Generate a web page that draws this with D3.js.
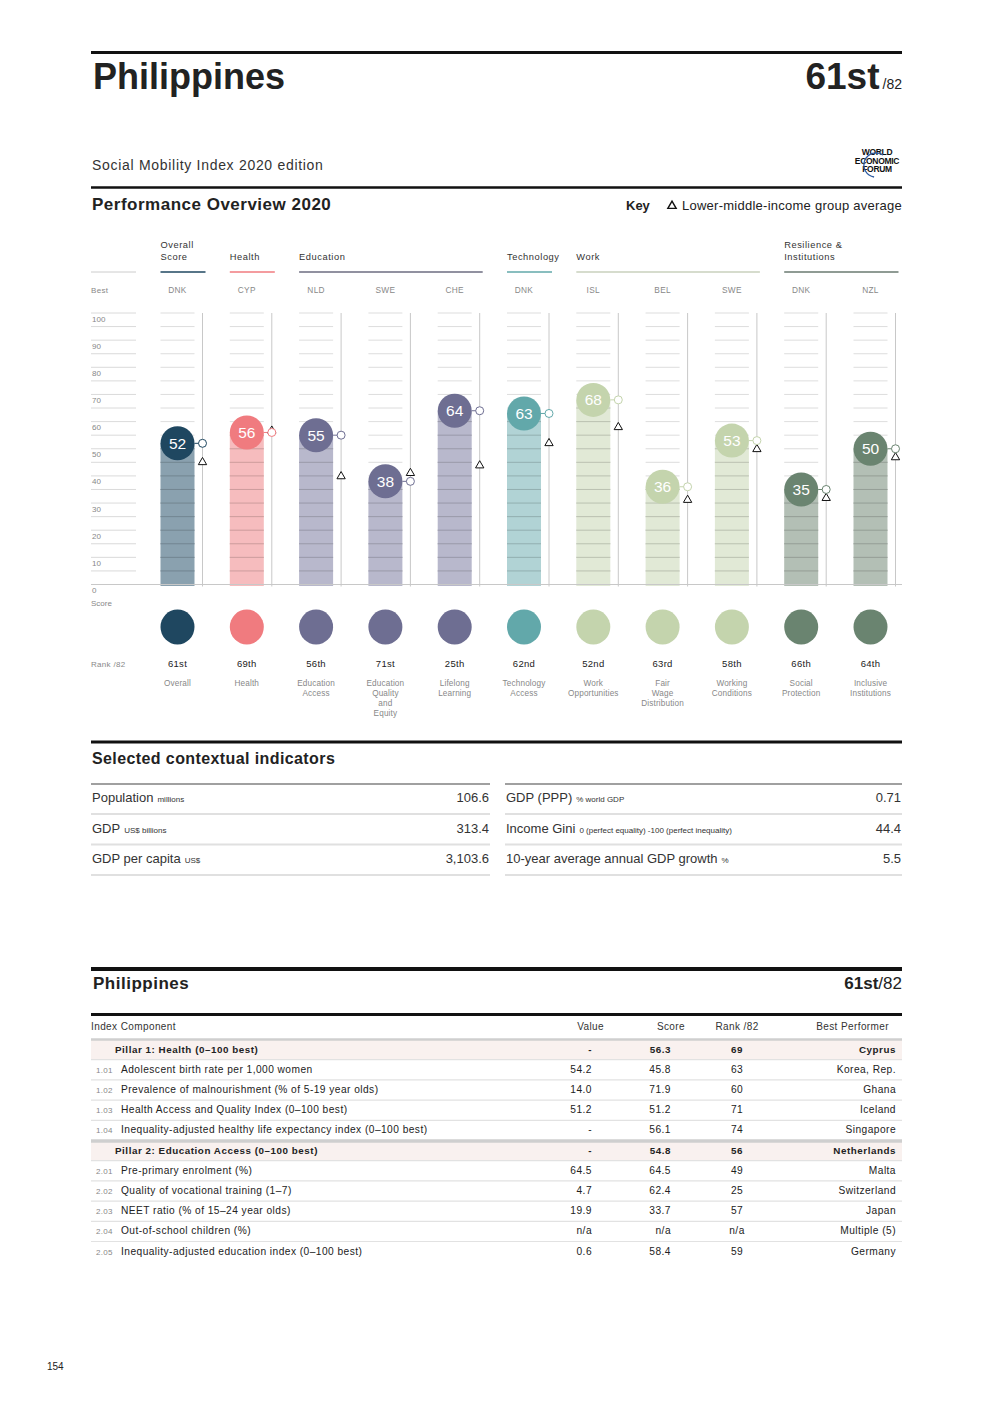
<!DOCTYPE html>
<html lang="en">
<head>
<meta charset="utf-8">
<title>Philippines - Social Mobility Index 2020</title>
<script src="https://d3js.org/d3.v7.min.js"></script>
<style>
  body { margin: 0; background: #fff; }
  svg text { font-family: "Liberation Sans", Arial, Helvetica, sans-serif; }
</style>
</head>
<body>
<script type="text/javascript">
// ---- data ----
var country = "Philippines";
var overallRank = "61st";
var pillarNames = [["Overall"], ["Health"], ["Education", "Access"], ["Education", "Quality", "and", "Equity"],
  ["Lifelong", "Learning"], ["Technology", "Access"], ["Work", "Opportunities"], ["Fair", "Wage", "Distribution"],
  ["Working", "Conditions"], ["Social", "Protection"], ["Inclusive", "Institutions"]];
var scores = [52, 56, 55, 38, 64, 63, 68, 36, 53, 35, 50];
var groupAvg = [45.4, 57, 40.2, 41.4, 44.2, 52.4, 58.3, 31.5, 50.2, 32.2, 47.2];
var ranks = ["61st", "69th", "56th", "71st", "25th", "62nd", "52nd", "63rd", "58th", "66th", "64th"];
var bestCodes = ["DNK", "CYP", "NLD", "SWE", "CHE", "DNK", "ISL", "BEL", "SWE", "DNK", "NZL"];
var pillarGroup = [0, 1, 2, 2, 2, 3, 4, 4, 4, 5, 5];
var groupNames = [["Overall", "Score"], ["Health"], ["Education"], ["Technology"], ["Work"], ["Resilience &", "Institutions"]];
var groupColors = ["#1f4760", "#f07b7f", "#6e6e92", "#62a8aa", "#c4d4ad", "#6a8470"];
var barColors = ["#8aa1af", "#f6bcbe", "#b8b8cc", "#b1d3d5", "#e1e9d6", "#b3bfb5"];
var lineColors = ["#1f4760", "#f07b7f", "#6d6d80", "#62a8aa", "#c9d1bd", "#6a7a70"];

var ctxLeft = [["Population", "millions", "106.6"], ["GDP", "US$ billions", "313.4"], ["GDP per capita", "US$", "3,103.6"]];
var ctxRight = [["GDP (PPP)", "% world GDP", "0.71"], ["Income Gini", "0 (perfect equality) -100 (perfect inequality)", "44.4"],
  ["10-year average annual GDP growth", "%", "5.5"]];

var tblIds = ["", "1.01", "1.02", "1.03", "1.04", "", "2.01", "2.02", "2.03", "2.04", "2.05"];
var tblNames = ["Pillar 1: Health (0–100 best)", "Adolescent birth rate per 1,000 women", "Prevalence of malnourishment (% of 5-19 year olds)",
  "Health Access and Quality Index (0–100 best)", "Inequality-adjusted healthy life expectancy index (0–100 best)",
  "Pillar 2: Education Access (0–100 best)", "Pre-primary enrolment (%)", "Quality of vocational training (1–7)",
  "NEET ratio (% of 15–24 year olds)", "Out-of-school children (%)", "Inequality-adjusted education index (0–100 best)"];
var tblValues = ["-", "54.2", "14.0", "51.2", "-", "-", "64.5", "4.7", "19.9", "n/a", "0.6"];
var tblScores = ["56.3", "45.8", "71.9", "51.2", "56.1", "54.8", "64.5", "62.4", "33.7", "n/a", "58.4"];
var tblRanks = ["69", "63", "60", "71", "74", "56", "49", "25", "57", "n/a", "59"];
var tblBest = ["Cyprus", "Korea, Rep.", "Ghana", "Iceland", "Singapore", "Netherlands", "Malta", "Switzerland", "Japan", "Multiple (5)", "Germany"];
var tblPillar = [true, false, false, false, false, true, false, false, false, false, false];

// ---- page ----
var w = 992, h = 1403;
var L = 91, R = 902;
var svg = d3.select("body").append("svg").attr("width", w).attr("height", h);

function rule(y, x1, x2, sw, col) {
  svg.append("line").attr("x1", x1).attr("x2", x2).attr("y1", y).attr("y2", y)
    .attr("stroke", col || "#111").attr("stroke-width", sw);
}

// header
rule(52.5, L, R, 3);
svg.append("text").attr("x", 93).attr("y", 89).attr("font-size", 36).attr("font-weight", "bold")
  .attr("fill", "#222").text(country);
var rk = svg.append("text").attr("x", R).attr("y", 89).attr("text-anchor", "end").attr("fill", "#222");
rk.append("tspan").attr("font-size", 37).attr("font-weight", "bold").text(overallRank);
rk.append("tspan").attr("font-size", 14).attr("dx", 3).text("/82");
svg.append("text").attr("x", 92).attr("y", 170).attr("font-size", 14).attr("letter-spacing", 0.7).attr("fill", "#333")
  .text("Social Mobility Index 2020 edition");

// WEF logo
var logo = svg.append("g").attr("transform", "translate(877,160)");
["WORLD", "ECONOMIC", "FORUM"].forEach(function(t, i) {
  logo.append("text").attr("y", -5 + i * 8.5).attr("text-anchor", "middle").attr("font-size", 8.5)
    .attr("font-weight", "bold").attr("letter-spacing", -0.3).attr("fill", "#111").text(t);
});
logo.append("path").attr("d", d3.arc()({innerRadius: 11.5, outerRadius: 12.8, startAngle: 3.3, endAngle: 6.9}))
  .attr("transform", "translate(-1,5)").attr("fill", "#2c5aa0");

rule(187.5, L, R, 2.5);
svg.append("text").attr("x", 92).attr("y", 210).attr("font-size", 17).attr("font-weight", "bold")
  .attr("letter-spacing", 0.5).attr("fill", "#222").text("Performance Overview 2020");
svg.append("text").attr("x", 626).attr("y", 210).attr("font-size", 13).attr("font-weight", "bold")
  .attr("fill", "#222").text("Key");
svg.append("path").attr("d", d3.symbol(d3.symbolTriangle, 30)()).attr("transform", "translate(672,206)")
  .attr("fill", "#fff").attr("stroke", "#111").attr("stroke-width", 1.4);
svg.append("text").attr("x", R).attr("y", 210).attr("font-size", 13).attr("letter-spacing", 0.25).attr("text-anchor", "end")
  .attr("fill", "#222").text("Lower-middle-income group average");

// ---- chart ----
var idx = d3.range(scores.length);
var x = d3.scalePoint().domain(idx).range([177.5, 870.5]);
var y = d3.scaleLinear().domain([0, 100]).range([584.5, 313]);
var barW = 34, vOff = 25;
var gridVals = d3.range(5, 101, 5);

// group headers
groupNames.forEach(function(g, gi) {
  var members = idx.filter(function(i) { return pillarGroup[i] === gi; });
  var x1 = x(members[0]) - barW / 2, x2 = x(members[members.length - 1]) + vOff + 3;
  g.forEach(function(t, li) {
    svg.append("text").attr("x", x1).attr("y", 260 - (g.length - 1 - li) * 12).attr("font-size", 9.3)
      .attr("letter-spacing", 0.55).attr("fill", "#333").text(t);
  });
  rule(272, x1, x2, 1.3, lineColors[gi]);
});
rule(272, L, 136, 1, "#ccc");
svg.append("text").attr("x", 91).attr("y", 293).attr("font-size", 8).attr("letter-spacing", 0.3).attr("fill", "#888").text("Best");
svg.selectAll("text.best").data(idx).join("text").attr("class", "best")
  .attr("x", function(i) { return x(i); }).attr("y", 293).attr("text-anchor", "middle")
  .attr("font-size", 8.3).attr("letter-spacing", 0.3).attr("fill", "#888").text(function(i) { return bestCodes[i]; });

// axis column
var axisG = svg.append("g");
axisG.selectAll("line").data(gridVals).join("line")
  .attr("x1", L).attr("x2", 136).attr("y1", function(v) { return y(v); }).attr("y2", function(v) { return y(v); })
  .attr("stroke", "#d0d0d0").attr("stroke-width", 0.8);
axisG.selectAll("text").data(d3.range(10, 101, 10)).join("text")
  .attr("x", 92).attr("y", function(v) { return y(v) + 8.5; }).attr("font-size", 8).attr("fill", "#888")
  .text(function(v) { return v; });
svg.append("text").attr("x", 92).attr("y", 593).attr("font-size", 8).attr("fill", "#888").text("0");
svg.append("text").attr("x", 91).attr("y", 606).attr("font-size", 8).attr("fill", "#888").text("Score");

// columns
var cols = svg.selectAll("g.col").data(idx).join("g").attr("class", "col");
cols.each(function(i) {
  var g = d3.select(this), cx = x(i), gc = groupColors[pillarGroup[i]], bc = barColors[pillarGroup[i]];
  g.selectAll("line.grid").data(gridVals).join("line").attr("class", "grid")
    .attr("x1", cx - barW / 2).attr("x2", cx + barW / 2)
    .attr("y1", function(v) { return y(v); }).attr("y2", function(v) { return y(v); })
    .attr("stroke", "#d4d4d4").attr("stroke-width", 0.8);
  g.append("line").attr("x1", cx + vOff).attr("x2", cx + vOff).attr("y1", y(100)).attr("y2", y(0) + 2)
    .attr("stroke", "#c8c8c8").attr("stroke-width", 1);
  g.append("rect").attr("x", cx - barW / 2).attr("width", barW).attr("y", y(scores[i]))
    .attr("height", y(0) - y(scores[i]) + 1.5).attr("fill", bc);
  g.selectAll("line.in").data(gridVals.filter(function(v) { return v < scores[i]; })).join("line").attr("class", "in")
    .attr("x1", cx - barW / 2).attr("x2", cx + barW / 2)
    .attr("y1", function(v) { return y(v); }).attr("y2", function(v) { return y(v); })
    .attr("stroke", d3.color(bc).darker(0.6)).attr("stroke-width", 0.9);
  // connector + marker
  g.append("line").attr("x1", cx + 17).attr("x2", cx + vOff).attr("y1", y(scores[i])).attr("y2", y(scores[i]))
    .attr("stroke", gc).attr("stroke-width", 1);
  g.append("path").attr("d", d3.symbol(d3.symbolTriangle, 30)()).attr("transform", "translate(" + (cx + vOff) + "," + (y(groupAvg[i]) + 1) + ")")
    .attr("fill", "#fff").attr("stroke", "#111").attr("stroke-width", 1);
  g.append("circle").attr("cx", cx + vOff).attr("cy", y(scores[i])).attr("r", 4)
    .attr("fill", "#fff").attr("stroke", gc).attr("stroke-width", 1);
  g.append("circle").attr("cx", cx).attr("cy", y(scores[i])).attr("r", 17).attr("fill", gc);
  g.append("text").attr("x", cx).attr("y", y(scores[i]) + 5.5).attr("text-anchor", "middle")
    .attr("font-size", 15.5).attr("fill", "#fff").text(scores[i]);
  // bottom dots, ranks, names
  g.append("ellipse").attr("cx", cx).attr("cy", 627).attr("rx", 17).attr("ry", 17.5).attr("fill", gc);
  g.append("text").attr("x", cx).attr("y", 667).attr("text-anchor", "middle").attr("font-size", 9.5)
    .attr("letter-spacing", 0.3).attr("fill", "#222").text(ranks[i]);
  pillarNames[i].forEach(function(t, li) {
    g.append("text").attr("x", cx).attr("y", 686 + li * 10).attr("text-anchor", "middle").attr("font-size", 8.2)
      .attr("letter-spacing", 0.15).attr("fill", "#888").text(t);
  });
});
rule(584.5, L, R, 1, "#c8c8c8");
svg.append("text").attr("x", 91).attr("y", 667).attr("font-size", 8).attr("letter-spacing", 0.3).attr("fill", "#888").text("Rank /82");

// ---- contextual indicators ----
rule(742, L, R, 3);
svg.append("text").attr("x", 92).attr("y", 764).attr("font-size", 16).attr("font-weight", "bold")
  .attr("letter-spacing", 0.4).attr("fill", "#222").text("Selected contextual indicators");
[[ctxLeft, L, 490], [ctxRight, 505, R]].forEach(function(c) {
  var rows = c[0], x1 = c[1], x2 = c[2];
  rule(784, x1, x2, 2, "#a0a0a0");
  rows.forEach(function(r, ri) {
    var yy = 802 + ri * 30.5;
    var t = svg.append("text").attr("x", x1 + 1).attr("y", yy).attr("fill", "#333");
    t.append("tspan").attr("font-size", 13).text(r[0]);
    t.append("tspan").attr("font-size", 8).attr("dx", 4).text(r[1]);
    svg.append("text").attr("x", x2 - 1).attr("y", yy).attr("text-anchor", "end").attr("font-size", 13)
      .attr("fill", "#333").text(r[2]);
    rule(814 + ri * 30.5, x1, x2, 2, "#e0e0e0");
  });
});

// ---- detail table ----
rule(969, L, R, 4);
svg.append("text").attr("x", 93).attr("y", 989).attr("font-size", 17).attr("font-weight", "bold")
  .attr("letter-spacing", 0.5).attr("fill", "#222").text(country);
var rk2 = svg.append("text").attr("x", R).attr("y", 989).attr("text-anchor", "end").attr("font-size", 17).attr("fill", "#222");
rk2.append("tspan").attr("font-weight", "bold").text(overallRank);
rk2.append("tspan").text("/82");
rule(1014.5, L, R, 3);

var colValue = 592, colScore = 671, colRank = 737, colBest = 896;
var hdr = [["Index Component", 91, "start"], ["Value", 604, "end"], ["Score", 685, "end"], ["Rank /82", colRank, "middle"], ["Best Performer", 889, "end"]];
hdr.forEach(function(hh) {
  svg.append("text").attr("x", hh[1]).attr("y", 1030).attr("text-anchor", hh[2]).attr("font-size", 10)
    .attr("letter-spacing", 0.4).attr("fill", "#333").text(hh[0]);
});

var rowY = d3.scaleLinear().domain([0, 10]).range([1049, 1251]);
tblNames.forEach(function(name, ri) {
  var yc = rowY(ri), p = tblPillar[ri];
  if (p) {
    svg.append("rect").attr("x", L).attr("width", R - L).attr("y", yc - 9).attr("height", 19).attr("fill", "#f9f1ef");
    rule(yc - 9.5, L, R, 2.5, "#cfcfcf");
  } else {
    rule(yc - 9.5, L, R, 1.2, "#e2e2e2");
  }
  var fw = p ? "bold" : "normal", fs = p ? 9.8 : 10.2, ls = p ? 0.55 : 0.45;
  function cell(xx, anchor, txt) {
    svg.append("text").attr("x", xx).attr("y", yc + 3.5).attr("text-anchor", anchor).attr("font-size", fs)
      .attr("font-weight", fw).attr("letter-spacing", ls).attr("fill", "#222").text(txt);
  }
  if (p) {
    cell(115, "start", name);
  } else {
    svg.append("text").attr("x", 96).attr("y", yc + 3.5).attr("font-size", 8).attr("letter-spacing", 0.3)
      .attr("fill", "#888").text(tblIds[ri]);
    cell(121, "start", name);
  }
  cell(colValue, "end", tblValues[ri]);
  cell(colScore, "end", tblScores[ri]);
  cell(colRank, "middle", tblRanks[ri]);
  cell(colBest, "end", tblBest[ri]);
});
rule(1141.5, L, R, 2.5, "#cfcfcf");

svg.append("text").attr("x", 47).attr("y", 1370).attr("font-size", 10).attr("fill", "#222").text("154");
</script>
</body>
</html>
